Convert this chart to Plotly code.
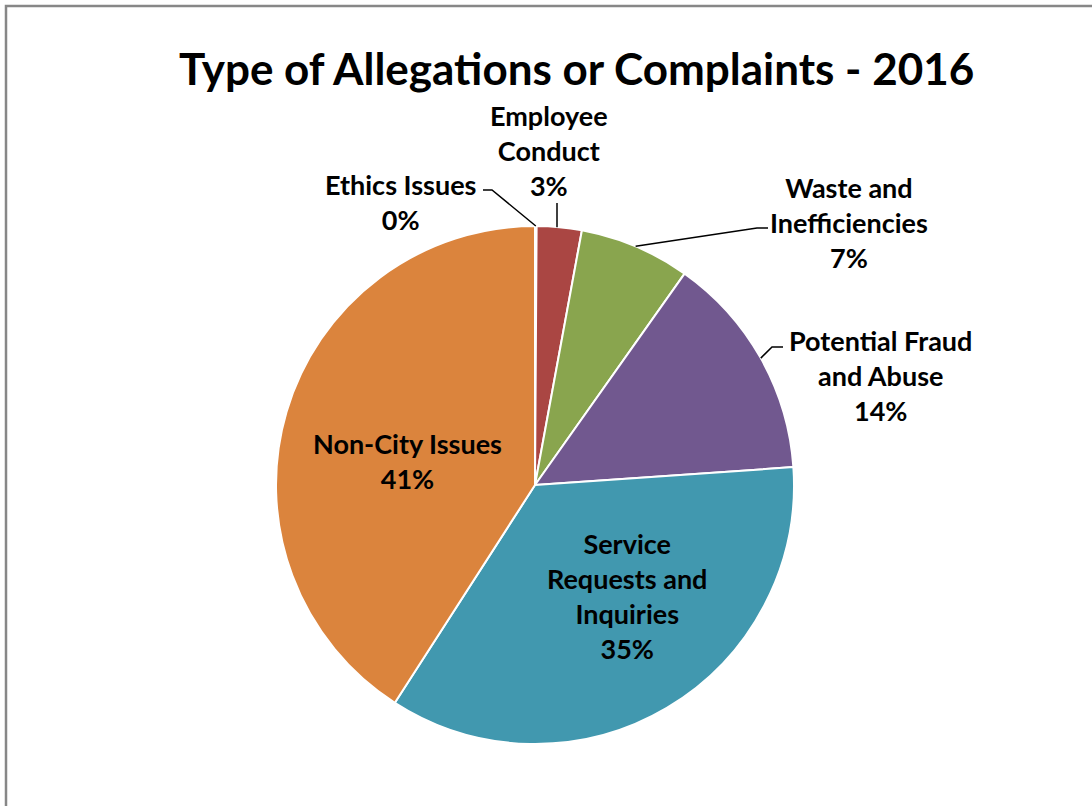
import math
import plotly.graph_objects as go

# ---- data ----
categories = ["Ethics Issues", "Employee Conduct", "Waste and Inefficiencies",
              "Potential Fraud and Abuse", "Service Requests and Inquiries", "Non-City Issues"]
label_lines = ["Ethics Issues", "Employee<br>Conduct", "Waste and<br>Inefficiencies",
               "Potential Fraud<br>and Abuse", "Service<br>Requests and<br>Inquiries", "Non-City Issues"]
values = [0.1, 2.8, 6.9, 14.1, 35.2, 40.9]
colors = ["#4572A7", "#AA4643", "#89A54E", "#71588F", "#4198AF", "#DB843D"]
title_text = "Type of Allegations or Complaints - 2016"

W, H = 1092, 806
OFF = 0  # page body margin removed via post_script
CX, CY, R = 535, 485, 259  # pie centre / radius in pixels (on screen)

def px(x):
    return (x - OFF) / W

def py(y):
    return 1 - (y - OFF) / H

total = sum(values)
pcts = [v / total for v in values]

fig = go.Figure(go.Pie(
    labels=categories, values=values, sort=False, direction="clockwise", rotation=0,
    marker=dict(colors=colors, line=dict(color="white", width=2)),
    textinfo="none", hoverinfo="label+percent", showlegend=False,
    domain=dict(x=[px(CX - R), px(CX + R)], y=[py(CY + R), py(CY - R)]),
))

# label placement in screen pixels: text centre x, centre y of text block, leader elbow, leader end
label_pos = {
    "Ethics Issues": dict(x=400, y=202, elbow=(492, 190), end=(483, 190)),
    "Employee Conduct": dict(x=549, y=151, elbow=None, end=(557, 203)),
    "Waste and Inefficiencies": dict(x=849, y=222, elbow=(757, 228), end=(768, 228)),
    "Potential Fraud and Abuse": dict(x=880, y=376, elbow=(772, 347), end=(783, 347)),
    "Service Requests and Inquiries": dict(x=627, y=596, elbow=None, end=None),
    "Non-City Issues": dict(x=407, y=461, elbow=None, end=None),
}

font = dict(family="Lato, Open Sans, sans-serif", size=27, color="black")
shapes = []
annotations = []
cum = 0.0
for cat, lab, p in zip(categories, label_lines, pcts):
    mid = cum + p / 2
    cum += p
    ang = 2 * math.pi * mid
    sx, sy = CX + R * math.sin(ang), CY - R * math.cos(ang)
    pos = label_pos[cat]
    text = f"<b>{lab}<br>{round(p * 100):.0f}%</b>"
    annotations.append(dict(x=px(pos["x"]), y=py(pos["y"]), xref="paper", yref="paper",
                            text=text, showarrow=False, font=font, align="center",
                            xanchor="center", yanchor="middle"))
    if pos["end"] is not None:
        if pos["elbow"] is not None:
            pts = [(sx, sy), pos["elbow"], pos["end"]]
        else:
            pts = [(pos["end"][0], sy), pos["end"]]
        path = "M " + " L ".join(f"{px(a)},{py(b)}" for a, b in pts)
        shapes.append(dict(type="path", path=path, xref="paper", yref="paper",
                           line=dict(color="black", width=1.5)))

# outer frame
shapes.append(dict(type="rect", xref="paper", yref="paper",
                   x0=px(6), x1=1.05, y0=-0.05, y1=py(6),
                   line=dict(color="#878787", width=2.5), fillcolor="rgba(0,0,0,0)", layer="below"))

annotations.append(dict(x=px(576), y=py(68), xref="paper", yref="paper",
                        text=f"<b>{title_text}</b>", showarrow=False,
                        font=dict(family="Lato, Open Sans, sans-serif", size=44, color="black"),
                        xanchor="center", yanchor="middle"))

fig.update_layout(width=W, height=H, margin=dict(l=0, r=0, t=0, b=0),
                  paper_bgcolor="white", plot_bgcolor="white",
                  shapes=shapes, annotations=annotations)

fig.write_html("out.html", config={"displayModeBar": False},
               post_script="document.body.style.margin='0';document.body.style.overflow='hidden';")
